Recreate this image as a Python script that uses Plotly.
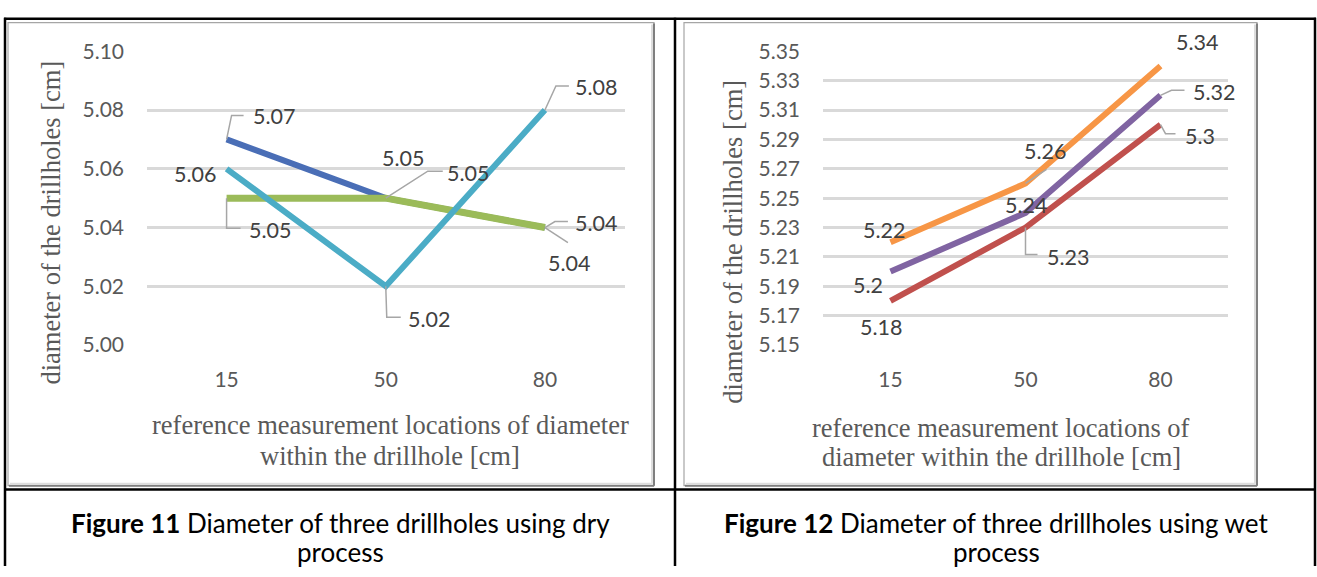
import plotly.graph_objects as go

W, H = 1317, 577

# ---------------- data ----------------
categories = ["15", "50", "80"]

dry_blue = [5.07, 5.05, 5.04]
dry_green = [5.05, 5.05, 5.04]
dry_cyan = [5.06, 5.02, 5.08]

wet_red = [5.18, 5.23, 5.30]
wet_purple = [5.20, 5.24, 5.32]
wet_orange = [5.22, 5.26, 5.34]

dry_ticks = [5.00, 5.02, 5.04, 5.06, 5.08, 5.10]
wet_ticks = [5.15, 5.17, 5.19, 5.21, 5.23, 5.25, 5.27, 5.29, 5.31, 5.33, 5.35]

wet_label_text = {  # labels as printed by the source chart
    "red": ["5.18", "5.23", "5.3"],
    "purple": ["5.2", "5.24", "5.32"],
    "orange": ["5.22", "5.26", "5.34"],
}

x_title_lines_dry = ["reference measurement locations of diameter", "within the drillhole [cm]"]
x_title_lines_wet = ["reference measurement locations of", "diameter within the drillhole [cm]"]
y_title = "diameter of the drillholes [cm]"
cap11 = ["<b>Figure 11</b> Diameter of three drillholes using dry", "process"]
cap12 = ["<b>Figure 12</b> Diameter of three drillholes using wet", "process"]

# ---------------- styles ----------------
C_BLUE, C_GREEN, C_CYAN = "#4A6EB6", "#9BBB59", "#4BACC6"
C_RED, C_PURPLE, C_ORANGE = "#C0504D", "#8064A2", "#F79646"
TICK_FONT = dict(family="Lato", size=21, color="#595959")
LBL_FONT = dict(family="Lato", size=21.5, color="#404040")
SERIF = dict(family="Liberation Serif", size=26.5, color="#595959")
CAP_FONT = dict(family="Lato", size=26, color="#000000")
LEADER = dict(color="#A6A6A6", width=1.5)


def px(x):
    return x / W


def py(y):
    return 1 - y / H


fig = go.Figure()
xi = list(range(len(categories)))

# dry process traces (left)
for vals, col, wdt in [(dry_blue, C_BLUE, 6), (dry_green, C_GREEN, 7), (dry_cyan, C_CYAN, 6)]:
    fig.add_trace(go.Scatter(x=xi, y=vals, mode="lines",
                             line=dict(color=col, width=wdt), xaxis="x", yaxis="y",
                             showlegend=False, cliponaxis=False))

# wet process traces (right)
for vals, col in [(wet_red, C_RED), (wet_purple, C_PURPLE), (wet_orange, C_ORANGE)]:
    fig.add_trace(go.Scatter(x=xi, y=vals, mode="lines",
                             line=dict(color=col, width=6), xaxis="x2", yaxis="y2",
                             showlegend=False, cliponaxis=False))

annotations = []
shapes = []


def label(xref, yref, i, val, text, dx, dy, leader=None):
    """dx, dy: text centre offset in px (dy down). leader: list of (x, y-down) px points."""
    annotations.append(dict(xref=xref, yref=yref, x=i, y=val, text=text,
                            showarrow=False, xshift=dx, yshift=-dy, font=LBL_FONT))
    if leader:
        pts = [(0, 0)] + leader
        path = "M " + " L ".join(f"{a},{-b}" for a, b in pts)
        shapes.append(dict(type="path", xref=xref, yref=yref, xsizemode="pixel",
                           ysizemode="pixel", xanchor=i, yanchor=val, path=path,
                           line=LEADER))


fmt2 = lambda v: f"{v:.2f}"
# left labels
label("x", "y", 0, dry_blue[0], fmt2(dry_blue[0]), 47, -23, [(5, -24), (17, -24)])
label("x", "y", 0, dry_cyan[0], fmt2(dry_cyan[0]), -32, 5)
label("x", "y", 0, dry_green[0], fmt2(dry_green[0]), 43, 32, [(0, 30), (14, 30)])
label("x", "y", 1, dry_blue[1], fmt2(dry_blue[1]), 17, -40)
label("x", "y", 1, dry_green[1], fmt2(dry_green[1]), 82, -25, [(42, -27), (57, -27)])
label("x", "y", 1, dry_cyan[1], fmt2(dry_cyan[1]), 43, 33, [(1, 31), (15, 31)])
label("x", "y", 2, dry_cyan[2], fmt2(dry_cyan[2]), 51, -23, [(11, -24), (24, -24)])
label("x", "y", 2, dry_green[2], fmt2(dry_green[2]), 51, -5, [(10, -6), (23, -6)])
label("x", "y", 2, dry_blue[2], fmt2(dry_blue[2]), 24, 35, [(23, 15)])

# right labels
label("x2", "y2", 0, wet_orange[0], wet_label_text["orange"][0], -7, -12)
label("x2", "y2", 1, wet_orange[1], wet_label_text["orange"][1], 19, -32, [(21, -14)])
label("x2", "y2", 2, wet_orange[2], wet_label_text["orange"][2], 36, -24)
label("x2", "y2", 0, wet_purple[0], wet_label_text["purple"][0], -23, 13)
label("x2", "y2", 1, wet_purple[1], wet_label_text["purple"][1], 0, -8)
label("x2", "y2", 2, wet_purple[2], wet_label_text["purple"][2], 53, -3, [(11, -5), (24, -5)])
label("x2", "y2", 0, wet_red[0], wet_label_text["red"][0], -10, 26)
label("x2", "y2", 1, wet_red[1], wet_label_text["red"][1], 42, 29, [(0, 27), (12, 27)])
label("x2", "y2", 2, wet_red[2], wet_label_text["red"][2], 39, 11, [(5, 9), (15, 9)])

# axis titles
for i, t in enumerate(x_title_lines_dry):
    annotations.append(dict(xref="paper", yref="paper", x=px(390), y=py([430, 462][i]),
                            text=t, showarrow=False, font=SERIF, xanchor="center", yanchor="middle"))
for i, t in enumerate(x_title_lines_wet):
    annotations.append(dict(xref="paper", yref="paper", x=px(1001), y=py([433, 463][i]),
                            text=t, showarrow=False, font=SERIF, xanchor="center", yanchor="middle"))
annotations.append(dict(xref="paper", yref="paper", x=px(51), y=py(218), text=y_title,
                        textangle=-90, showarrow=False, font=SERIF, xanchor="center", yanchor="middle"))
annotations.append(dict(xref="paper", yref="paper", x=px(733), y=py(238), text=y_title,
                        textangle=-90, showarrow=False, font=SERIF, xanchor="center", yanchor="middle"))

# captions
for i, t in enumerate(cap11):
    annotations.append(dict(xref="paper", yref="paper", x=px(340), y=py([532, 562][i]), text=t,
                            showarrow=False, font=CAP_FONT, xanchor="center", yanchor="middle"))
for i, t in enumerate(cap12):
    annotations.append(dict(xref="paper", yref="paper", x=px(996), y=py([532, 562][i]), text=t,
                            showarrow=False, font=CAP_FONT, xanchor="center", yanchor="middle"))

# chart frames
for (x0, x1) in [(8, 654), (684, 1257)]:
    shapes.append(dict(type="rect", xref="paper", yref="paper", x0=px(x0), x1=px(x1),
                       y0=py(493), y1=py(9), line=dict(color="#A6A6A6", width=1.2), layer="below"))
    shapes.append(dict(type="line", xref="paper", yref="paper", x0=px(x1), x1=px(x1),
                       y0=py(493), y1=py(10), line=dict(color="#7F7F7F", width=2)))
    shapes.append(dict(type="line", xref="paper", yref="paper", x0=px(x0 + 1), x1=px(x1),
                       y0=py(493), y1=py(493), line=dict(color="#7F7F7F", width=2)))
    shapes.append(dict(type="line", xref="paper", yref="paper", x0=px(x1 - 2), x1=px(x1 - 2),
                       y0=py(491), y1=py(11), line=dict(color="#DDDDDD", width=2)))
    shapes.append(dict(type="line", xref="paper", yref="paper", x0=px(x0 + 2), x1=px(x1 - 2),
                       y0=py(491), y1=py(491), line=dict(color="#DDDDDD", width=2)))

# table lines
blk = dict(color="#000000", width=2.5)
shapes += [
    dict(type="line", xref="paper", yref="paper", x0=px(4), x1=px(1316), y0=py(5), y1=py(5), line=blk),
    dict(type="line", xref="paper", yref="paper", x0=px(4), x1=px(1316), y0=py(497), y1=py(497), line=blk),
    dict(type="line", xref="paper", yref="paper", x0=px(5), x1=px(5), y0=py(4), y1=0, line=blk),
    dict(type="line", xref="paper", yref="paper", x0=px(675), x1=px(675), y0=py(4), y1=0, line=blk),
    dict(type="line", xref="paper", yref="paper", x0=px(1315), x1=px(1315), y0=py(4), y1=0, line=blk),
]

ydom = [py(346), py(39)]
common_x = dict(range=[-0.5, 2.5], showgrid=False, zeroline=False, tickvals=xi, ticktext=categories,
                showline=False, ticks="", tickfont=TICK_FONT, ticklabelstandoff=20, fixedrange=True)
common_y = dict(showgrid=True, gridcolor="#D9D9D9", gridwidth=2.5, zeroline=False,
                showline=False, ticks="", tickfont=TICK_FONT, tickformat=".2f",
                ticklabelstandoff=22, fixedrange=True)

fig.update_layout(
    width=W, height=H, margin=dict(l=0, r=0, t=0, b=0),
    paper_bgcolor="white", plot_bgcolor="white",
    xaxis=dict(domain=[px(147), px(624.5)], anchor="y", **common_x),
    yaxis=dict(domain=ydom, anchor="x", range=[dry_ticks[0], dry_ticks[-1]],
               tickvals=dry_ticks, **common_y),
    xaxis2=dict(domain=[px(823), px(1228)], anchor="y2", **common_x),
    yaxis2=dict(domain=ydom, anchor="x2", range=[wet_ticks[0], wet_ticks[-1]],
                tickvals=wet_ticks, **common_y),
    annotations=annotations, shapes=shapes, showlegend=False,
)

fig.write_html("out.html")
